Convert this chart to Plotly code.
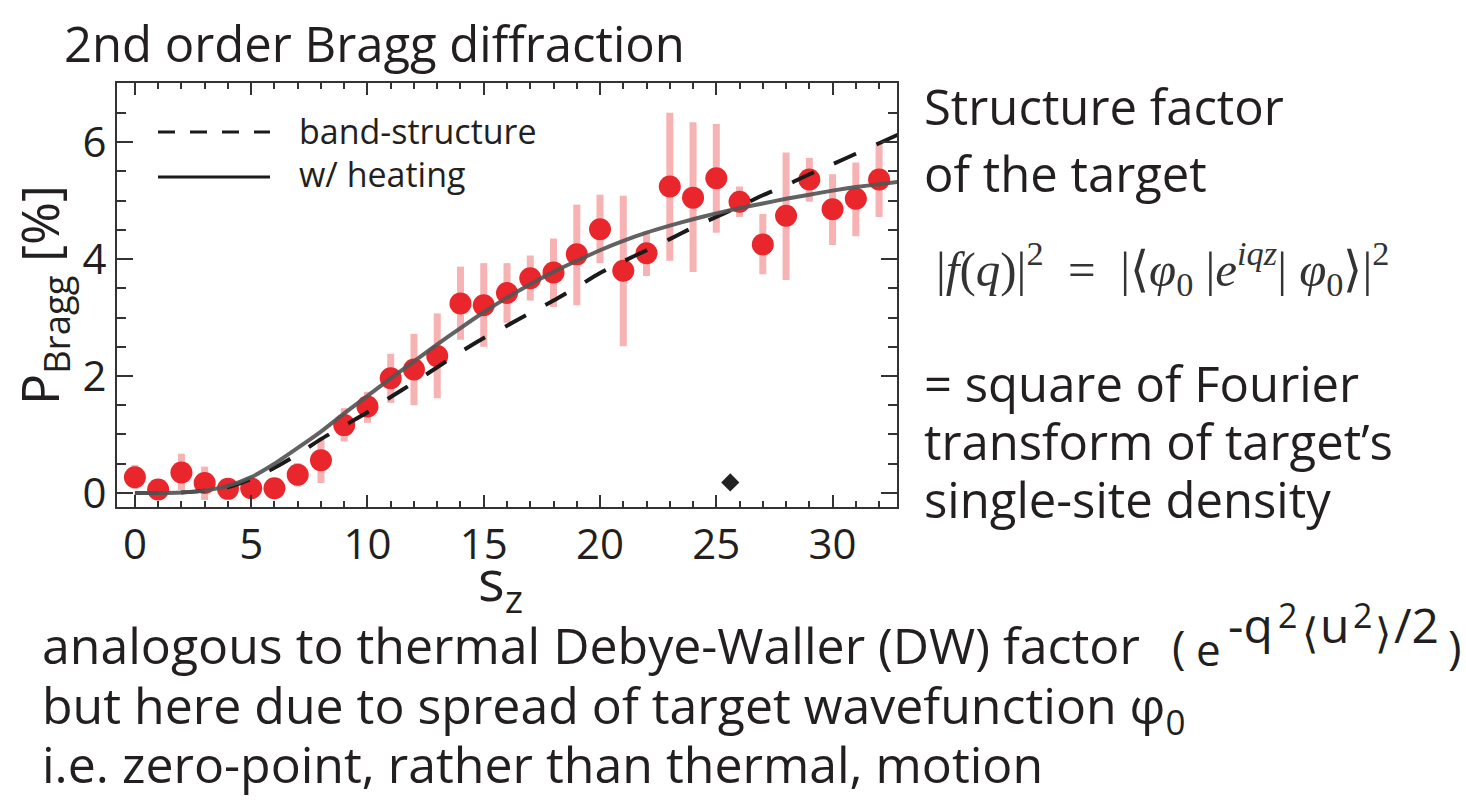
import plotly.graph_objects as go

# ---- data -------------------------------------------------------------
s_z = list(range(33))
p_bragg = [0.27, 0.06, 0.35, 0.17, 0.07, 0.08, 0.08, 0.31, 0.56, 1.16, 1.48,
           1.96, 2.11, 2.34, 3.24, 3.21, 3.42, 3.67, 3.77, 4.08, 4.51, 3.80,
           4.10, 5.24, 5.05, 5.38, 4.98, 4.25, 4.74, 5.36, 4.85, 5.03, 5.36]
p_upper = [0.48, 0.10, 0.67, 0.45, 0.12, 0.12, 0.12, 0.51, 0.91, 1.45, 1.73,
           2.38, 2.72, 3.07, 3.87, 3.93, 3.93, 4.06, 4.35, 4.93, 5.10, 5.08,
           4.47, 6.50, 6.34, 6.31, 5.24, 4.77, 5.82, 5.73, 5.45, 5.65, 5.98]
p_lower = [0.07, 0.03, 0.05, -0.12, 0.03, 0.04, 0.04, 0.11, 0.17, 0.88, 1.20,
           1.54, 1.50, 1.62, 2.62, 2.50, 2.91, 3.29, 3.18, 3.21, 3.93, 2.51,
           3.71, 3.97, 3.78, 4.45, 4.72, 3.74, 3.64, 4.98, 4.24, 4.39, 4.72]

curve_s = list(range(34))
band_structure = [0, 0, 0.01, 0.04, 0.10, 0.24, 0.43, 0.66, 0.92, 1.15, 1.38,
                  1.64, 1.89, 2.15, 2.41, 2.65, 2.86, 3.08, 3.29, 3.52, 3.76,
                  3.96, 4.15, 4.34, 4.54, 4.72, 4.90, 5.09, 5.26, 5.45, 5.62,
                  5.80, 5.98, 6.16]
with_heating = [0, 0, 0.01, 0.04, 0.12, 0.27, 0.50, 0.77, 1.05, 1.36, 1.66,
                1.96, 2.25, 2.54, 2.82, 3.09, 3.34, 3.57, 3.78, 3.97, 4.15,
                4.31, 4.45, 4.57, 4.68, 4.78, 4.87, 4.95, 5.03, 5.10, 5.17,
                5.23, 5.28, 5.33]

marker_s = [25.6]
marker_p = [0.18]

x_ticks = [0, 5, 10, 15, 20, 25, 30]
y_ticks = [0, 2, 4, 6]

# ---- styling ----------------------------------------------------------
FONT = "Open Sans"
INK = "#231f20"
AXIS = "#333333"
W, H = 1466, 807
PL, PR, PT, PB = 117, 897, 83, 507   # plot-area edges in pixels
NB = "\u00a0"


def px(x):
    return (x - PL) / (PR - PL)


def py(y):
    return (PB - y) / (PB - PT)


fig = go.Figure()

fig.add_trace(go.Scatter(
    x=s_z, y=p_bragg, mode="markers",
    marker=dict(color="#e8262b", size=22, line=dict(width=0)),
    error_y=dict(type="data", symmetric=False,
                 array=[u - v for u, v in zip(p_upper, p_bragg)],
                 arrayminus=[v - l for v, l in zip(p_bragg, p_lower)],
                 color="#f7b2b4", thickness=7, width=0),
))

fig.add_trace(go.Scatter(
    x=curve_s, y=band_structure, mode="lines",
    line=dict(color="#1a1a1a", width=4, dash="24px,22px", shape="spline",
              smoothing=0.6),
))
fig.add_trace(go.Scatter(
    x=curve_s, y=with_heating, mode="lines",
    line=dict(color="rgba(85,85,85,0.92)", width=4, shape="spline",
              smoothing=0.6),
))
fig.add_trace(go.Scatter(
    x=marker_s, y=marker_p, mode="markers",
    marker=dict(symbol="diamond", color="#222222", size=14),
))

axis_common = dict(
    showline=True, linewidth=2, linecolor=AXIS, mirror="ticks",
    ticks="inside", tickwidth=2, tickcolor=AXIS,
    showgrid=False, zeroline=False,
    tickfont=dict(family=FONT, size=42, color=INK),
)
fig.update_xaxes(range=[-0.77, 32.77], tickvals=x_ticks, ticklen=12,
                 minor=dict(dtick=1, tick0=0, ticks="inside", ticklen=6,
                            tickwidth=2, tickcolor=AXIS, showgrid=False),
                 **axis_common)
fig.update_yaxes(range=[-0.24, 7.01], tickvals=y_ticks, ticklen=16,
                 minor=dict(dtick=0.5, tick0=0, ticks="inside", ticklen=9,
                            tickwidth=2, tickcolor=AXIS, showgrid=False),
                 **axis_common)

annotations = []


def text(x, baseline, s, size=49, color=INK, family=FONT, anchor="left"):
    annotations.append(dict(
        x=px(x), y=py(baseline - 0.388 * size), xref="paper", yref="paper",
        text=s, showarrow=False, xanchor=anchor, yanchor="middle",
        font=dict(family=family, size=size, color=color),
    ))


# heading and side notes
text(62, 62, "2nd order Bragg diffraction")
text(922, 125, "Structure factor")
text(922, 192, "of the target")
text(934, 288,
     "|<i>f</i>(<i>q</i>)|<sup>2</sup>" + NB * 2 + "=" + NB * 2 +
     "|⟨<i>φ</i><sub>0</sub>" + NB + "|<i>e</i><sup><i>iqz</i></sup>|" + NB +
     "<i>φ</i><sub>0</sub>⟩|<sup>2</sup>",
     size=49, color="#333333", family="Liberation Serif")
text(922, 402, "= square of Fourier")
text(922, 460, "transform of target’s")
text(922, 518, "single-site density")

# bottom notes with the Debye-Waller exponent
text(40, 664, "analogous to thermal Debye-Waller (DW) factor", size=50)
text(1170, 664, "(", size=46)
text(1194, 666, "e", size=44)
text(1226, 643, "-q", size=48)
text(1276, 628, "2", size=34)
text(1300, 648, "⟨", size=42)
text(1318, 643, "u", size=48)
text(1351, 628, "2", size=34)
text(1373, 648, "⟩", size=42)
text(1392, 643, "/2", size=48)
text(1446, 664, ")", size=46)
text(40, 727, "but here due to spread of target wavefunction φ<sub>0</sub>",
     size=50)
text(40, 783, "i.e. zero-point, rather than thermal, motion", size=50)

# legend labels
text(297, 144, "band-structure", size=34)
text(297, 187, "w/ heating", size=34)

# axis titles
annotations.append(dict(
    x=px(42), y=py(295), xref="paper", yref="paper",
    text="P<sub>Bragg</sub> [%]", textangle=-90, showarrow=False,
    xanchor="center", yanchor="middle",
    font=dict(family=FONT, size=52, color=INK),
))
annotations.append(dict(
    x=px(500), y=py(582), xref="paper", yref="paper",
    text="s<sub>z</sub>", showarrow=False,
    xanchor="center", yanchor="middle",
    font=dict(family=FONT, size=56, color=INK),
))

shapes = [
    dict(type="line", xref="paper", yref="paper",
         x0=px(158), x1=px(270), y0=py(132), y1=py(132),
         line=dict(color="#1a1a1a", width=3, dash="17px,15px")),
    dict(type="line", xref="paper", yref="paper",
         x0=px(158), x1=px(270), y0=py(177), y1=py(177),
         line=dict(color="#1a1a1a", width=3)),
]

fig.update_layout(
    width=W, height=H,
    margin=dict(l=PL, r=W - PR, t=PT, b=H - PB),
    paper_bgcolor="white", plot_bgcolor="white",
    showlegend=False,
    annotations=annotations, shapes=shapes,
    font=dict(family=FONT, color=INK),
)

fig.write_html("out.html")
